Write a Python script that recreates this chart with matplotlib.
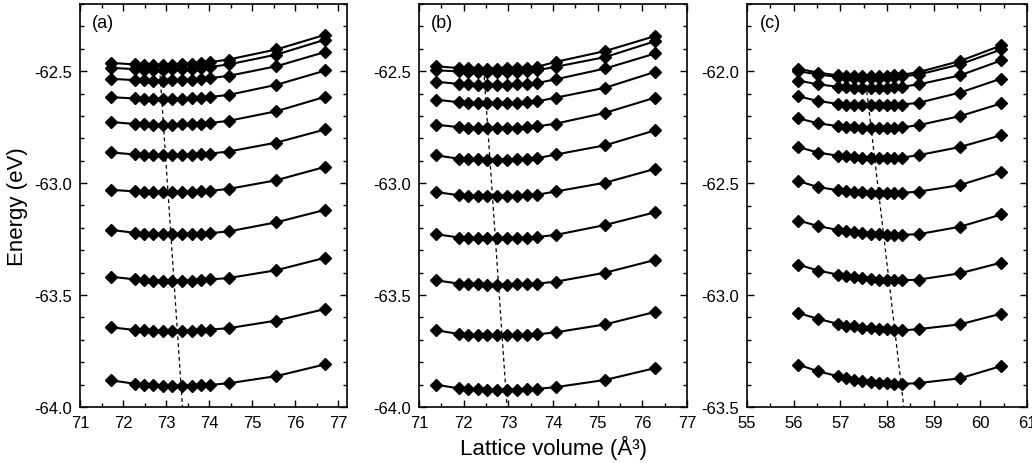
import matplotlib as mpl

mpl.use("Agg")
import matplotlib.pyplot as plt
from matplotlib.ticker import MultipleLocator

plt.rcParams["font.family"] = ["Liberation Sans", "DejaVu Sans"]
plt.rcParams["axes.unicode_minus"] = False

# ---- data ----
vol_a = [71.72, 72.27, 72.48, 72.69, 72.92, 73.14, 73.36, 73.59, 73.80, 74.03, 74.45, 75.56, 76.70]
energy_a = [
    [-62.463, -62.470, -62.472, -62.472, -62.472, -62.471, -62.469, -62.467, -62.464, -62.459, -62.448, -62.403, -62.337],
    [-62.485, -62.491, -62.493, -62.493, -62.493, -62.492, -62.491, -62.489, -62.486, -62.481, -62.470, -62.426, -62.359],
    [-62.534, -62.540, -62.541, -62.542, -62.542, -62.541, -62.540, -62.538, -62.535, -62.531, -62.521, -62.478, -62.414],
    [-62.616, -62.622, -62.624, -62.624, -62.624, -62.624, -62.623, -62.621, -62.619, -62.615, -62.606, -62.561, -62.497],
    [-62.727, -62.736, -62.738, -62.739, -62.739, -62.739, -62.738, -62.737, -62.735, -62.731, -62.722, -62.679, -62.614],
    [-62.863, -62.872, -62.874, -62.875, -62.875, -62.875, -62.874, -62.873, -62.871, -62.868, -62.859, -62.819, -62.760],
    [-63.030, -63.037, -63.039, -63.040, -63.040, -63.040, -63.040, -63.039, -63.037, -63.034, -63.026, -62.987, -62.927],
    [-63.209, -63.222, -63.226, -63.228, -63.229, -63.229, -63.229, -63.228, -63.226, -63.223, -63.216, -63.175, -63.119],
    [-63.418, -63.430, -63.433, -63.435, -63.436, -63.436, -63.436, -63.435, -63.433, -63.430, -63.424, -63.389, -63.333],
    [-63.644, -63.656, -63.658, -63.659, -63.660, -63.660, -63.660, -63.659, -63.657, -63.654, -63.648, -63.614, -63.562],
    [-63.881, -63.896, -63.901, -63.903, -63.904, -63.905, -63.905, -63.904, -63.903, -63.901, -63.894, -63.862, -63.809],
]
eq_vol_a = [72.85, 73.38]
eq_energy_a = [-62.49, -64.0]

vol_b = [71.38, 71.89, 72.10, 72.31, 72.53, 72.75, 72.97, 73.20, 73.42, 73.64, 74.07, 75.17, 76.29]
energy_b = [
    [-62.478, -62.486, -62.488, -62.489, -62.489, -62.489, -62.488, -62.487, -62.485, -62.481, -62.458, -62.410, -62.343],
    [-62.496, -62.501, -62.503, -62.504, -62.504, -62.504, -62.503, -62.502, -62.500, -62.496, -62.480, -62.437, -62.366],
    [-62.547, -62.557, -62.559, -62.560, -62.560, -62.560, -62.560, -62.559, -62.557, -62.553, -62.536, -62.488, -62.421],
    [-62.627, -62.639, -62.641, -62.642, -62.642, -62.642, -62.642, -62.641, -62.639, -62.635, -62.618, -62.574, -62.503],
    [-62.739, -62.750, -62.752, -62.753, -62.753, -62.753, -62.753, -62.752, -62.750, -62.747, -62.734, -62.686, -62.618],
    [-62.876, -62.891, -62.893, -62.894, -62.895, -62.895, -62.895, -62.894, -62.892, -62.889, -62.872, -62.831, -62.764],
    [-63.040, -63.054, -63.056, -63.057, -63.058, -63.058, -63.058, -63.057, -63.055, -63.052, -63.037, -62.998, -62.936],
    [-63.228, -63.243, -63.245, -63.246, -63.247, -63.247, -63.247, -63.246, -63.244, -63.241, -63.231, -63.187, -63.130],
    [-63.434, -63.449, -63.451, -63.452, -63.453, -63.453, -63.453, -63.452, -63.451, -63.449, -63.440, -63.400, -63.343],
    [-63.657, -63.674, -63.677, -63.678, -63.679, -63.679, -63.679, -63.679, -63.678, -63.676, -63.666, -63.631, -63.575],
    [-63.900, -63.917, -63.920, -63.921, -63.922, -63.922, -63.922, -63.922, -63.921, -63.919, -63.911, -63.879, -63.826],
]
eq_vol_b = [72.46, 72.97]
eq_energy_b = [-62.525, -64.0]

vol_c = [56.10, 56.53, 56.96, 57.13, 57.30, 57.47, 57.65, 57.82, 57.99, 58.16, 58.33, 58.68, 59.56, 60.45]
energy_c = [
    [-61.989, -62.007, -62.019, -62.021, -62.022, -62.023, -62.023, -62.022, -62.021, -62.019, -62.016, -62.004, -61.955, -61.885],
    [-62.000, -62.015, -62.026, -62.028, -62.029, -62.030, -62.030, -62.029, -62.028, -62.026, -62.023, -62.015, -61.970, -61.903],
    [-62.042, -62.059, -62.070, -62.072, -62.074, -62.075, -62.075, -62.075, -62.074, -62.072, -62.069, -62.059, -62.019, -61.952],
    [-62.112, -62.134, -62.146, -62.149, -62.151, -62.152, -62.153, -62.153, -62.152, -62.151, -62.149, -62.141, -62.096, -62.033],
    [-62.211, -62.233, -62.246, -62.249, -62.251, -62.253, -62.254, -62.254, -62.254, -62.253, -62.251, -62.241, -62.201, -62.144],
    [-62.339, -62.364, -62.378, -62.381, -62.384, -62.386, -62.387, -62.388, -62.388, -62.387, -62.386, -62.375, -62.339, -62.286],
    [-62.491, -62.518, -62.532, -62.536, -62.539, -62.541, -62.543, -62.544, -62.544, -62.544, -62.543, -62.538, -62.509, -62.451],
    [-62.667, -62.692, -62.710, -62.715, -62.719, -62.723, -62.726, -62.728, -62.730, -62.731, -62.731, -62.728, -62.695, -62.640],
    [-62.864, -62.891, -62.909, -62.917, -62.921, -62.926, -62.929, -62.931, -62.933, -62.934, -62.934, -62.931, -62.903, -62.855],
    [-63.080, -63.107, -63.129, -63.136, -63.140, -63.145, -63.148, -63.151, -63.153, -63.156, -63.158, -63.152, -63.131, -63.083],
    [-63.311, -63.341, -63.363, -63.371, -63.378, -63.386, -63.389, -63.393, -63.395, -63.396, -63.397, -63.393, -63.372, -63.317],
]
eq_vol_c = [57.55, 58.36]
eq_energy_c = [-62.06, -63.5]

panels = [
    ("(a)", vol_a, energy_a, eq_vol_a, eq_energy_a, (71, 77.2), (-64.0, -62.2), [71, 72, 73, 74, 75, 76, 77]),
    ("(b)", vol_b, energy_b, eq_vol_b, eq_energy_b, (71, 77), (-64.0, -62.2), [71, 72, 73, 74, 75, 76, 77]),
    ("(c)", vol_c, energy_c, eq_vol_c, eq_energy_c, (55, 61), (-63.5, -61.7), [55, 56, 57, 58, 59, 60, 61]),
]

fig = plt.figure(figsize=(10.32, 4.64), dpi=100)
rects = [
    [80 / 1032, 56 / 464, 267 / 1032, 403 / 464],
    [419 / 1032, 56 / 464, 268 / 1032, 403 / 464],
    [747 / 1032, 56 / 464, 280 / 1032, 403 / 464],
]

for rect, (tag, vol, energies, eq_v, eq_e, xlim, ylim, xticks) in zip(rects, panels):
    ax = fig.add_axes(rect)
    for e in energies:
        ax.plot(vol, e, color="black", linewidth=1.5, marker="D", markersize=6.3)
    ax.plot(eq_v, eq_e, color="black", linestyle=(0, (3, 2.5)), linewidth=0.9)
    ax.set_xlim(*xlim)
    ax.set_ylim(*ylim)
    ax.set_xticks(xticks)
    ax.xaxis.set_minor_locator(MultipleLocator(0.5))
    ax.yaxis.set_major_locator(MultipleLocator(0.5))
    ax.yaxis.set_minor_locator(MultipleLocator(0.1))
    ax.yaxis.set_major_formatter(mpl.ticker.FormatStrFormatter("%.1f"))
    ax.tick_params(which="both", direction="in", top=True, right=True, labelsize=12, width=1.0)
    ax.tick_params(which="major", length=5, pad=6)
    ax.tick_params(which="minor", length=3)
    for s in ax.spines.values():
        s.set_linewidth(1.2)
    ax.text(0.045, 0.955, tag, transform=ax.transAxes, ha="left", va="center", fontsize=13)
    if tag == "(a)":
        ax.set_ylabel("Energy (eV)", fontsize=16, labelpad=4)
    if tag == "(b)":
        ax.set_xlabel("Lattice volume (Å³)", fontsize=16, labelpad=3)

fig.savefig("out.png", dpi=100)
plt.close(fig)
